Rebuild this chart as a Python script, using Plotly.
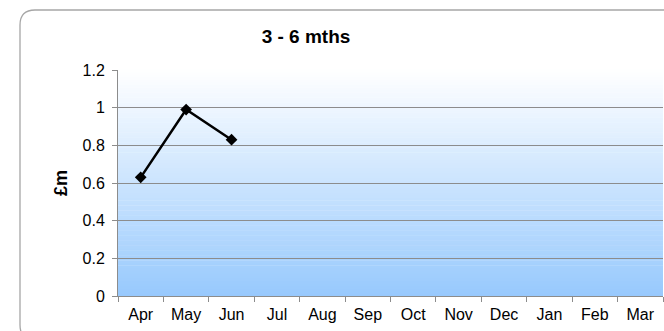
import plotly.graph_objects as go

# Monthly values (£m) for the 3 - 6 months band
months = ["Apr", "May", "Jun", "Jul", "Aug", "Sep", "Oct", "Nov", "Dec", "Jan", "Feb", "Mar"]
values = [0.63, 0.99, 0.83, None, None, None, None, None, None, None, None, None]
y_ticks = [0, 0.2, 0.4, 0.6, 0.8, 1.0, 1.2]

W, H = 664, 331
M_L, M_R, M_T, M_B = 118, 1, 70, 35
PW, PH = W - M_L - M_R, H - M_T - M_B


def px_to_paper_x(px):
    return (px - M_L) / PW


def px_to_paper_y(py):
    return (H - M_B - py) / PH


fig = go.Figure()
fig.add_trace(go.Scatter(
    x=months, y=values, mode="lines+markers",
    line=dict(color="black", width=2.5),
    marker=dict(symbol="diamond", size=9, color="black"),
    connectgaps=False, hoverinfo="skip", showlegend=False,
))

shapes = []
# vertical white-to-blue gradient behind the plot area
n_bands = 90
top_rgb = (255, 255, 255)
bot_rgb = (151, 201, 253)
for i in range(n_bands):
    t = (i + 0.5) / n_bands
    r = round(bot_rgb[0] + (top_rgb[0] - bot_rgb[0]) * t)
    g = round(bot_rgb[1] + (top_rgb[1] - bot_rgb[1]) * t)
    b = round(bot_rgb[2] + (top_rgb[2] - bot_rgb[2]) * t)
    shapes.append(dict(
        type="rect", xref="paper", yref="paper", layer="below",
        x0=0, x1=1, y0=i / n_bands, y1=(i + 1) / n_bands + 0.002,
        fillcolor=f"rgb({r},{g},{b})", line=dict(width=0),
    ))

# rounded chart-area border
bx0, by0, bx1, by1, rad = 20, 10, 700, 340, 15
x0, x1 = px_to_paper_x(bx0), px_to_paper_x(bx1)
y0, y1 = px_to_paper_y(by0), px_to_paper_y(by1)
rx, ry = rad / PW, rad / PH
path = (
    f"M {x0},{y1 + ry} L {x0},{y0 - ry} Q {x0},{y0} {x0 + rx},{y0} "
    f"L {x1},{y0} M {x0},{y1 + ry} Q {x0},{y1} {x0 + rx},{y1} L {x1},{y1}"
)
shapes.append(dict(type="path", xref="paper", yref="paper", path=path,
                   line=dict(color="#a6a6a6", width=1.3), layer="above"))

fig.update_layout(
    width=W, height=H,
    margin=dict(l=M_L, r=M_R, t=M_T, b=M_B),
    paper_bgcolor="white",
    plot_bgcolor="rgba(0,0,0,0)",
    font=dict(family="Liberation Sans, Arial, sans-serif", size=16, color="black"),
    title=dict(text="<b>3 - 6 mths</b>", x=px_to_paper_x(306), xref="paper",
               xanchor="center", y=1 - 36 / H, yanchor="middle",
               font=dict(size=19, color="black")),
    shapes=shapes,
    showlegend=False,
)
fig.update_xaxes(
    type="category", categoryorder="array", categoryarray=months,
    range=[-0.5, len(months) - 0.5],
    showline=True, linecolor="#8c8c8c", linewidth=1,
    ticks="outside", tickson="boundaries", ticklen=5, tickcolor="#8c8c8c",
    ticklabelstandoff=4,
    showgrid=False, fixedrange=True,
)
fig.update_yaxes(
    range=[0, 1.2], tickvals=y_ticks, ticktext=[f"{v:g}" for v in y_ticks],
    showline=True, linecolor="#8c8c8c", linewidth=1,
    ticks="outside", ticklen=5, tickcolor="#8c8c8c",
    ticklabelstandoff=4,
    showgrid=True, gridcolor="#8c8c8c", gridwidth=1,
    zeroline=False, fixedrange=True,
    title=dict(text="<b>£m</b>", font=dict(size=18), standoff=10),
)

fig.write_html("out.html")
